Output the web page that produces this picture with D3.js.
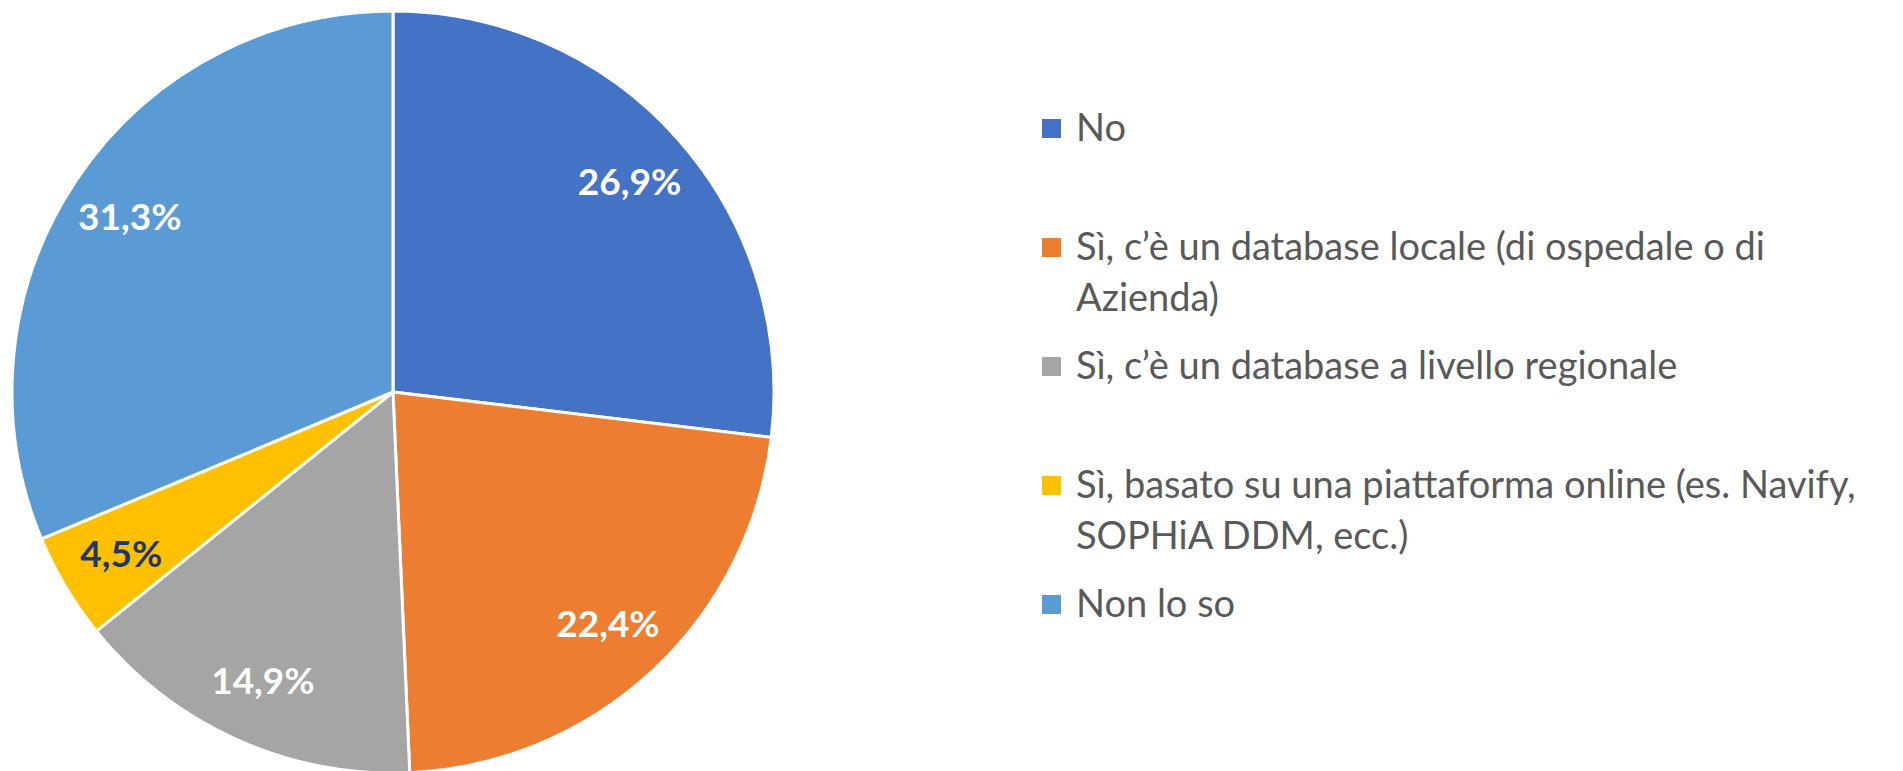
<!DOCTYPE html>
<html>
<head>
<meta charset="utf-8">
<script src="https://cdn.jsdelivr.net/npm/d3@7"></script>
<style>
  body { margin: 0; background: #fff; }
  svg { display: block; }
  .legend text { font-family: Lato, "Open Sans", sans-serif; fill: #595959; }
  .label { font-family: Lato, "Open Sans", sans-serif; font-weight: bold; }
</style>
</head>
<body>
<svg width="1903" height="771"></svg>
<script>

var categories = [
  "No",
  "Sì, c’è un database locale (di ospedale o di Azienda)",
  "Sì, c’è un database a livello regionale",
  "Sì, basato su una piattaforma online (es. Navify, SOPHiA DDM, ecc.)",
  "Non lo so"
];
var values = [26.9, 22.4, 14.9, 4.5, 31.3];
var colors = ["#4472C4", "#ED7D31", "#A5A5A5", "#FFC000", "#5B9BD5"];
var labelColors = ["#ffffff", "#ffffff", "#ffffff", "#1F3864", "#ffffff"];

var svg = d3.select("svg"),
    width = +svg.attr("width"),
    height = +svg.attr("height");

var fmt = function (v) { return v.toFixed(1).replace(".", ",") + "%"; };

var data = categories.map(function (c, i) {
  return { name: c, value: values[i], color: colors[i], labelColor: labelColors[i] };
});

// pie, clockwise from 12 o'clock, in data order
var radius = 381;
var g = svg.append("g").attr("transform", "translate(393,392)");

var pie = d3.pie().sort(null).value(function (d) { return d.value; });
var arc = d3.arc().innerRadius(0).outerRadius(radius);
var labelArc = d3.arc().innerRadius(radius * 0.83).outerRadius(radius * 0.83);

var arcs = pie(data);

g.selectAll("path.slice")
    .data(arcs)
    .enter().append("path")
    .attr("class", "slice")
    .attr("d", arc)
    .style("fill", function (d) { return d.data.color; })
    .style("stroke", "#fff")
    .style("stroke-width", 3)
    .style("stroke-linejoin", "round");

g.selectAll("text.label")
    .data(arcs)
    .enter().append("text")
    .attr("class", "label")
    .attr("transform", function (d) { return "translate(" + labelArc.centroid(d) + ")"; })
    .attr("dy", "0.36em")
    .style("text-anchor", "middle")
    .style("font-size", "37px")
    .style("fill", function (d) { return d.data.labelColor; })
    .text(function (d) { return fmt(d.data.value); });

// legend: first-line baselines spread evenly
var legendX = 1042, textX = 1076, fontSize = 38, lineH = 51, wrapW = 820;
var yLegend = d3.scalePoint().domain(categories).range([141, 617]);

var legend = svg.append("g").attr("class", "legend");

var item = legend.selectAll("g.item")
    .data(data)
    .enter().append("g")
    .attr("class", "item")
    .attr("transform", function (d) { return "translate(0," + yLegend(d.name) + ")"; });

item.append("rect")
    .attr("x", legendX)
    .attr("y", -22)
    .attr("width", 19)
    .attr("height", 19)
    .style("fill", function (d) { return d.color; });

item.append("text")
    .attr("x", textX)
    .style("font-size", fontSize + "px")
    .each(function (d) {
      // greedy word wrap
      var text = d3.select(this),
          words = d.name.split(" "),
          line = [],
          lineNo = 0,
          tspan = text.append("tspan").attr("x", textX).attr("y", 0);
      words.forEach(function (w) {
        line.push(w);
        tspan.text(line.join(" "));
        if (tspan.node().getComputedTextLength() > wrapW && line.length > 1) {
          line.pop();
          tspan.text(line.join(" "));
          line = [w];
          lineNo++;
          tspan = text.append("tspan").attr("x", textX).attr("y", lineNo * lineH).text(w);
        }
      });
    });

</script>
</body>
</html>
